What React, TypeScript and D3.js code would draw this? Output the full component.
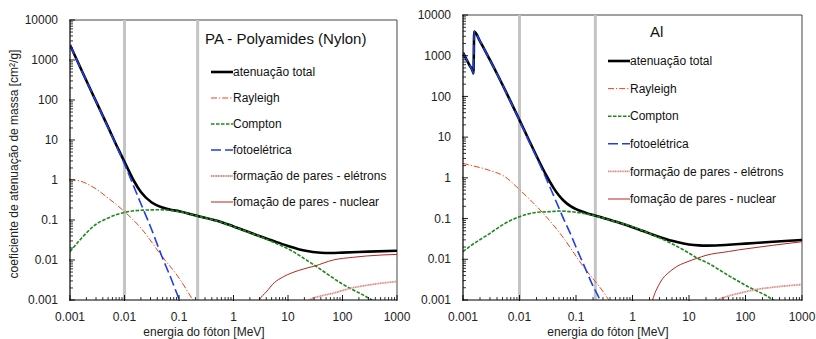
import React from "react";
import * as d3 from "d3";

type Pt = [number, number];

// ---------- Data: PA - Polyamides (Nylon) ----------  [energy MeV, mu/rho cm2/g]
const paTotal: Pt[] = [
  [0.001, 2372], [0.002, 302], [0.00316, 80], [0.005, 21], [0.00769, 5.9], [0.01, 2.85],
  [0.015, 0.93], [0.02, 0.5], [0.0316, 0.274], [0.05, 0.205], [0.0734, 0.178], [0.1, 0.166],
  [0.22, 0.126], [0.5, 0.096], [1, 0.069], [2, 0.0485], [3.16, 0.0385], [5, 0.031],
  [10, 0.0225], [20, 0.0172], [40, 0.0152], [60, 0.015], [100, 0.0153], [300, 0.0162], [1000, 0.0171],
];
const paRayleigh: Pt[] = [
  [0.001, 1.04], [0.00158, 0.93], [0.00288, 0.62], [0.005, 0.355], [0.01, 0.162],
  [0.02, 0.063], [0.0482, 0.0126], [0.1, 0.00355], [0.18, 0.001], [0.2, 0.0008],
];
const paCompton: Pt[] = [
  [0.001, 0.0162], [0.0015, 0.031], [0.00288, 0.075], [0.005, 0.112], [0.01, 0.155],
  [0.02, 0.175], [0.045, 0.18], [0.1, 0.163], [0.22, 0.125], [0.5, 0.095], [1, 0.068],
  [2, 0.048], [3.16, 0.038], [5, 0.029], [10, 0.019], [28.8, 0.0078], [100, 0.0025],
  [343, 0.001], [500, 0.0007],
];
const paPhoto: Pt[] = [
  [0.001, 2370], [0.002, 300], [0.00316, 79], [0.005, 20.5], [0.00769, 5.6], [0.01, 2.5],
  [0.015, 0.66], [0.02, 0.255], [0.03, 0.068], [0.0482, 0.0126], [0.07, 0.0037],
  [0.104, 0.00095], [0.115, 0.0007],
];
const paPairElectron: Pt[] = [
  [16, 0.0005], [25, 0.001], [40, 0.00126], [67.6, 0.00148], [138, 0.00195],
  [316, 0.0024], [1000, 0.0029],
];
const paPairNuclear: Pt[] = [
  [2.5, 0.0006], [2.98, 0.001], [4, 0.0016], [5.6, 0.0027], [8.2, 0.0038], [15.8, 0.0055],
  [31.3, 0.0071], [67.6, 0.01], [158, 0.0117], [275, 0.0126], [1000, 0.0138],
];

// ---------- Data: Al ----------
const alTotal: Pt[] = [
  [0.001, 1185], [0.0013, 587], [0.0015, 402], [0.00153, 368], [0.00158, 3900], [0.002, 2263],
  [0.003, 788], [0.004, 360.5], [0.005, 193.4], [0.006, 115.3], [0.008, 50.33], [0.01, 26.23],
  [0.015, 7.955], [0.02, 3.441], [0.03, 1.128], [0.04, 0.5685], [0.05, 0.3681], [0.06, 0.2778],
  [0.08, 0.2018], [0.1, 0.1704], [0.15, 0.1378], [0.2, 0.1223], [0.3, 0.1042], [0.5, 0.08445],
  [0.8, 0.06841], [1, 0.06146], [1.5, 0.05006], [2, 0.04324], [3, 0.03541], [5, 0.02836],
  [8, 0.02437], [10, 0.02318], [15, 0.02195], [20, 0.02168], [30, 0.02187], [50, 0.02271],
  [100, 0.0242], [200, 0.0258], [500, 0.0281], [1000, 0.0297],
];
const alRayleigh: Pt[] = [
  [0.001, 2.27], [0.0013, 2.07], [0.0028, 1.56], [0.0055, 1.07], [0.0102, 0.5], [0.025, 0.145],
  [0.052, 0.0437], [0.135, 0.0066], [0.349, 0.0012], [0.42, 0.0008],
];
const alCompton: Pt[] = [
  [0.001, 0.0154], [0.0013, 0.0204], [0.003, 0.0434], [0.005, 0.07], [0.01, 0.111],
  [0.02, 0.142], [0.035, 0.148], [0.052, 0.153], [0.1, 0.143], [0.217, 0.117], [0.5, 0.084],
  [1, 0.063], [2, 0.043], [5, 0.024], [10, 0.0142], [13.7, 0.0108], [20, 0.0085],
  [50, 0.004], [100, 0.0023], [309, 0.001], [500, 0.0006],
];
const alPhoto: Pt[] = [
  [0.001, 1183], [0.0013, 585], [0.0015, 400], [0.00153, 366], [0.00158, 3898], [0.002, 2260],
  [0.003, 786], [0.004, 359], [0.005, 192], [0.006, 114], [0.008, 49.5], [0.01, 25.5],
  [0.015, 7.6], [0.02, 3.2], [0.03, 0.93], [0.04, 0.37], [0.05, 0.18], [0.06, 0.1],
  [0.08, 0.042], [0.1, 0.02], [0.15, 0.0055], [0.2, 0.0022], [0.25, 0.0012], [0.3, 0.00065],
];
const alPairElectron: Pt[] = [
  [25, 0.0007], [33, 0.001], [50, 0.00125], [75, 0.00145], [150, 0.0018], [300, 0.00205],
  [1000, 0.0024],
];
const alPairNuclear: Pt[] = [
  [2, 0.0005], [2.27, 0.001], [3, 0.0025], [5, 0.0055], [10, 0.009], [13.7, 0.0105],
  [20, 0.0125], [50, 0.0155], [75, 0.017], [100, 0.018], [300, 0.022], [1000, 0.027],
];

// ---------- Labels ----------
const legendLabels = [
  "atenuação total",
  "Rayleigh",
  "Compton",
  "fotoelétrica",
  "formação de pares - elétrons",
  "fomação de pares - nuclear",
];
const xTickValues = [0.001, 0.01, 0.1, 1, 10, 100, 1000];
const xTickLabels = ["0.001", "0.01", "0.1", "1", "10", "100", "1000"];
const yTickValues = [0.001, 0.01, 0.1, 1, 10, 100, 1000, 10000];
const yTickLabels = ["0.001", "0.01", "0.1", "1", "10", "100", "1000", "10000"];
const markerEnergies = [0.01, 0.22];

const FONT = "Arial, 'Liberation Sans', sans-serif";

const styles = [
  { stroke: "#000000", width: 2.6, dash: "" },
  { stroke: "#f2421e", width: 1, dash: "6,2,1.2,2" },
  { stroke: "#1b8a1b", width: 1.6, dash: "3.5,1.5" },
  { stroke: "#1f3fe6", width: 1.6, dash: "10,4" },
  { stroke: "#de8a84", width: 1.8, dash: "1.2,0.5" },
  { stroke: "#b8241c", width: 1, dash: "" },
];

interface PanelProps {
  id: string;
  x0: number; x1: number; y0: number; y1: number;
  series: Pt[][];
  title: string;
  titleX: number; titleY: number;
  legX: number; legY: number; legStep: number;
  xTitleX: number;
}

function Panel(p: PanelProps) {
  const x = d3.scaleLog().domain([1e-3, 1e3]).range([p.x0, p.x1]);
  const y = d3.scaleLog().domain([1e-3, 1e4]).range([p.y1, p.y0]);
  const line = d3.line<Pt>().x((d) => x(d[0])).y((d) => y(d[1])).curve(d3.curveMonotoneX);

  const xMinor: number[] = [];
  for (let k = -3; k < 3; k++) for (let m = 2; m <= 9; m++) xMinor.push(m * Math.pow(10, k));
  const yMinor: number[] = [];
  for (let k = -3; k < 4; k++) for (let m = 2; m <= 9; m++) yMinor.push(m * Math.pow(10, k));

  // drawing order: total first, others on top
  return (
    <g>
      <defs>
        <clipPath id={p.id}>
          <rect x={p.x0} y={p.y0} width={p.x1 - p.x0} height={p.y1 - p.y0} />
        </clipPath>
      </defs>
      {/* frame top/right */}
      <path d={`M${p.x0},${p.y0}H${p.x1}V${p.y1}`} fill="none" stroke="#444" strokeWidth={1} />
      {/* marker lines */}
      {markerEnergies.map((e, i) => (
        <line key={i} x1={x(e)} x2={x(e)} y1={p.y0} y2={p.y1} stroke="#c4c4c4" strokeWidth={3} />
      ))}
      <g clipPath={`url(#${p.id})`}>
        {p.series.map((s, i) => (
          <path key={i} d={line(s) || ""} fill="none" stroke={styles[i].stroke}
            strokeWidth={styles[i].width} strokeDasharray={styles[i].dash || undefined}
            strokeLinejoin="round" />
        ))}
      </g>
      {/* axes */}
      <line x1={p.x0} x2={p.x0} y1={p.y0} y2={p.y1} stroke="#000" strokeWidth={1.2} />
      <line x1={p.x0} x2={p.x1} y1={p.y1} y2={p.y1} stroke="#000" strokeWidth={1.2} />
      {xMinor.map((v, i) => (
        <line key={"xm" + i} x1={x(v)} x2={x(v)} y1={p.y1} y2={p.y1 - 3} stroke="#000" strokeWidth={0.8} />
      ))}
      {xTickValues.map((v, i) => (
        <g key={"xt" + i}>
          <line x1={x(v)} x2={x(v)} y1={p.y1 + 1} y2={p.y1 - 5} stroke="#000" strokeWidth={0.9} />
          <text x={x(v)} y={p.y1 + 21} textAnchor="middle" fontSize={12} fontFamily={FONT} fill="#222">
            {xTickLabels[i]}
          </text>
        </g>
      ))}
      {yMinor.map((v, i) => (
        <line key={"ym" + i} x1={p.x0} x2={p.x0 + 3} y1={y(v)} y2={y(v)} stroke="#000" strokeWidth={0.8} />
      ))}
      {yTickValues.map((v, i) => (
        <g key={"yt" + i}>
          <line x1={p.x0 - 1} x2={p.x0 + 5} y1={y(v)} y2={y(v)} stroke="#000" strokeWidth={0.9} />
          <text x={p.x0 - 12} y={y(v)} dy="0.35em" textAnchor="end" fontSize={12} fontFamily={FONT} fill="#222">
            {yTickLabels[i]}
          </text>
        </g>
      ))}
      <text x={p.xTitleX} y={p.y1 + 36} textAnchor="middle" fontSize={12} fontFamily={FONT} fill="#222">
        energia do fóton [MeV]
      </text>
      {/* legend */}
      <text x={p.titleX} y={p.titleY} fontSize={15} fontFamily={FONT} fill="#111">{p.title}</text>
      {legendLabels.map((lab, i) => {
        const ly = p.legY + i * p.legStep;
        return (
          <g key={"lg" + i}>
            <line x1={p.legX} x2={p.legX + 22} y1={ly} y2={ly} stroke={styles[i].stroke}
              strokeWidth={styles[i].width} strokeDasharray={styles[i].dash || undefined} />
            <text x={p.legX + 22} y={ly} dy="0.35em" fontSize={12} fontFamily={FONT} fill="#111">{lab}</text>
          </g>
        );
      })}
    </g>
  );
}

export default function App() {
  return (
    <svg width={816} height={339} style={{ position: "absolute", left: 0, top: 0, background: "#fff" }}>
      <rect width={816} height={339} fill="#fff" />
      <Panel id="clipPA" x0={70} x1={397} y0={20} y1={300}
        series={[paTotal, paRayleigh, paCompton, paPhoto, paPairElectron, paPairNuclear]}
        title="PA - Polyamides (Nylon)" titleX={205} titleY={44}
        legX={211} legY={72} legStep={26} xTitleX={204} />
      <Panel id="clipAl" x0={463} x1={802} y0={15} y1={300}
        series={[alTotal, alRayleigh, alCompton, alPhoto, alPairElectron, alPairNuclear]}
        title="Al" titleX={650} titleY={37}
        legX={608} legY={61} legStep={27.6} xTitleX={608} />
      <text transform="translate(18,164) rotate(-90)" textAnchor="middle" fontSize={12}
        fontFamily={FONT} fill="#222">
        coeficiente de atenuação de massa [cm²/g]
      </text>
    </svg>
  );
}
